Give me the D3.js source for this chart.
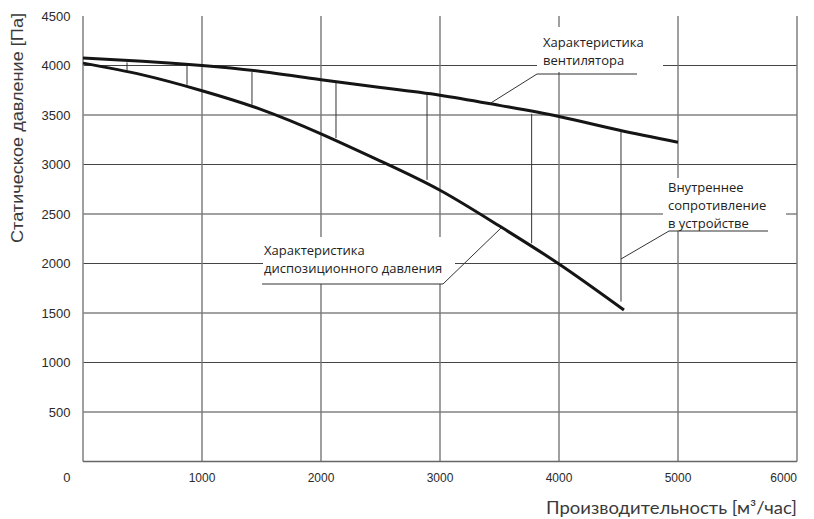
<!DOCTYPE html>
<html><head><meta charset="utf-8">
<script src="https://cdn.jsdelivr.net/npm/d3@7"></script>
<style>body{margin:0;background:#fff}svg{display:block}</style>
</head><body><svg id="c" width="814" height="519"></svg>
<script>
// ---- data ----
const fanQ = [0,500,1000,1500,2000,2500,3000,3500,4000,4500,5000];
const fanP = [4075,4043,4000,3940,3857,3778,3700,3597,3485,3348,3225];
const dispQ = [0,500,1000,1500,2000,2500,3000,3500,4000,4546];
const dispP = [4024,3905,3745,3555,3310,3035,2740,2378,1995,1530];
const dropQ = [370,874,1420,2126,2891,3770,4521];
const dropTop = [4031,3997,3934,3829,3704,3512,3333];
const dropBottom = [3950,3805,3603,3267,2845,2205,1615];
const xTicks = [1000,2000,3000,4000,5000,6000];
const yTicks = [500,1000,1500,2000,2500,3000,3500,4000,4500];
const gridY = [500,1000,1500,2000,2500,3000,3500,4000];
const yTitle = "Статическое давление [Па]";
const xTitle = "Производительность [м³/час]";
const fanLabel = ["Характеристика","вентилятора"];
const dispLabel = ["Характеристика","диспозиционного давления"];
const resLabel = ["Внутреннее","сопротивление","в устройстве"];

const svg = d3.select("#c");
const x = d3.scaleLinear().domain([0,6000]).range([83,797]);
const y = d3.scaleLinear().domain([0,4500]).range([461.5,16]);

// grid
const g = svg.append("g");
g.selectAll(".hg").data(gridY).join("line")
  .attr("x1",x(0)).attr("x2",x(6000)).attr("y1",d=>y(d)).attr("y2",d=>y(d))
  .attr("stroke","#444").attr("stroke-width",1.1);
g.selectAll(".vg").data(xTicks).join("line")
  .attr("y1",y(0)).attr("y2",y(4500)).attr("x1",d=>x(d)).attr("x2",d=>x(d))
  .attr("stroke","#777").attr("stroke-width",1.4);
g.append("line").attr("x1",x(0)).attr("x2",x(0)).attr("y1",y(0)).attr("y2",y(4500)).attr("stroke","#888").attr("stroke-width",1.6);
g.append("line").attr("x1",x(0)).attr("x2",x(6000)).attr("y1",y(0)).attr("y2",y(0)).attr("stroke","#666").attr("stroke-width",1.6);

// label masks
const masks = [[537,27,126,45],[263,237,192,47],[663,178,123,53]];
g.selectAll(".mask").data(masks).join("rect")
  .attr("x",d=>d[0]).attr("y",d=>d[1]).attr("width",d=>d[2]).attr("height",d=>d[3]).attr("fill","#fff");

// drop lines
g.selectAll(".drop").data(dropQ).join("line")
  .attr("x1",d=>x(d)).attr("x2",d=>x(d))
  .attr("y1",(d,i)=>y(dropTop[i])).attr("y2",(d,i)=>y(dropBottom[i]))
  .attr("stroke","#333").attr("stroke-width",1);

// curves
const line = d3.line().x(d=>x(d[0])).y(d=>y(d[1])).curve(d3.curveNatural);
svg.append("path").attr("d",line(fanQ.map((q,i)=>[q,fanP[i]])))
  .attr("fill","none").attr("stroke","#151515").attr("stroke-width",3);
svg.append("path").attr("d",line(dispQ.map((q,i)=>[q,dispP[i]])))
  .attr("fill","none").attr("stroke","#151515").attr("stroke-width",3);

// annotations
const annFont = "'Open Sans', 'Noto Sans', sans-serif";
function ann(lines, tx, ty, ul, leader){
  const t = svg.append("text").attr("font-family",annFont).attr("font-size",13).attr("fill","#222");
  lines.forEach((s,i)=>t.append("tspan").attr("x",tx).attr("y",ty+i*18).text(s));
  svg.append("line").attr("x1",ul[0]).attr("x2",ul[1]).attr("y1",ul[2]).attr("y2",ul[2]).attr("stroke","#333").attr("stroke-width",1);
  svg.append("line").attr("x1",leader[0]).attr("y1",leader[1]).attr("x2",leader[2]).attr("y2",leader[3]).attr("stroke","#333").attr("stroke-width",1);
}
ann(fanLabel, 543, 47, [537,637,74], [537,74,490,103.5]);
ann(dispLabel, 264, 255, [262,443,284], [443,284,501,228]);
ann(resLabel, 668, 192, [669,768,231], [669,231,621,259]);

// tick labels
const tf = "'Liberation Sans', Arial, sans-serif";
svg.selectAll(".yt").data(yTicks).join("text")
  .attr("x",70.5).attr("y",d=>y(d)+4.5).attr("text-anchor","end")
  .attr("font-family",tf).attr("font-size",13).attr("fill","#2a2a2a").text(d=>d);
svg.selectAll(".xt").data(xTicks).join("text")
  .attr("x",d=>x(d)).attr("y",482)
  .attr("text-anchor",d=>d===6000?"end":"middle")
  .attr("font-family",tf).attr("font-size",12).attr("fill","#2a2a2a").text(d=>d);
svg.append("text").attr("x",70.5).attr("y",482).attr("text-anchor","end")
  .attr("font-family",tf).attr("font-size",13).attr("fill","#2a2a2a").text("0");

// titles
svg.append("text").attr("transform","translate(23,128) rotate(-90)").attr("text-anchor","middle")
  .attr("font-family",tf).attr("font-size",16).attr("textLength",230).attr("lengthAdjust","spacingAndGlyphs")
  .attr("fill","#3a3a3a").text(yTitle);
svg.append("text").attr("x",797).attr("y",514).attr("text-anchor","end")
  .attr("font-family","Lato, sans-serif").attr("font-size",16.5).attr("textLength",251).attr("lengthAdjust","spacingAndGlyphs")
  .attr("fill","#3a3a3a").text(xTitle);
</script></body></html>
